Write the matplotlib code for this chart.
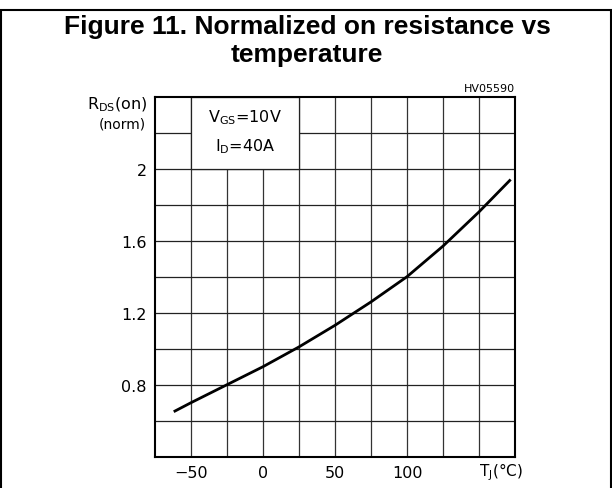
import matplotlib.pyplot as plt
from matplotlib.patches import Rectangle

# values
temp_c = [-62, -50, -37.5, -25, -12.5, 0, 12.5, 25, 50, 75, 100, 125, 150, 172]
rds_norm = [0.65, 0.70, 0.75, 0.80, 0.85, 0.90, 0.955, 1.01, 1.13, 1.26, 1.40, 1.57, 1.76, 1.94]

x_ticks = [-50, 0, 50, 100]
y_ticks = [0.8, 1.2, 1.6, 2.0]
y_tick_labels = ['0.8', '1.2', '1.6', '2']

W, H = 612, 489
fig = plt.figure(figsize=(W / 100, H / 100), dpi=100)

# outer frame of the datasheet figure
fig.patches.append(Rectangle((1 / W, -0.05), 610 / W, 1.05 - 11 / H, transform=fig.transFigure,
							 fill=False, edgecolor='black', linewidth=1.5))

fig.text(307 / W, 1 - 34 / H, 'Figure 11. Normalized on resistance vs', ha='center', va='baseline',
		 fontsize=19, fontweight='bold', family='Liberation Sans')
fig.text(307 / W, 1 - 62 / H, 'temperature', ha='center', va='baseline',
		 fontsize=19, fontweight='bold', family='Liberation Sans')

ax = fig.add_axes([155 / W, 1 - 457.7 / H, 360 / W, 360 / H])
ax.set_xlim(-75, 175)
ax.set_ylim(0.4, 2.4)

# grid every 25 degC and every 0.2
for gx in range(-50, 175, 25):
	ax.axvline(gx, color='#333333', linewidth=0.9, zorder=1)
for gy in [0.6, 0.8, 1.0, 1.2, 1.4, 1.6, 1.8, 2.0, 2.2]:
	ax.axhline(gy, color='#222222', linewidth=0.9, zorder=1)

# blank box holding the test conditions
ax.add_patch(Rectangle((-50, 2.0), 75, 0.4, facecolor='white', edgecolor='#222222',
					   linewidth=0.9, zorder=2))
ax.text(-12.5, 2.29, r'V$_{\mathregular{GS}}$=10V', ha='center', va='center', fontsize=11.5, zorder=3)
ax.text(-12.5, 2.13, r'I$_{\mathregular{D}}$=40A', ha='center', va='center', fontsize=11.5, zorder=3)

ax.plot(temp_c, rds_norm, color='black', linewidth=2, zorder=4, solid_capstyle='butt')

ax.set_xticks(x_ticks)
ax.set_yticks(y_ticks)
ax.set_yticklabels(y_tick_labels)
ax.tick_params(length=0, labelsize=11.5, pad=6)
for s in ax.spines.values():
	s.set_linewidth(1.5)
	s.set_zorder(5)

ax.text(150, 0.32, r'T$_{\mathregular{J}}$(°C)', ha='left', va='center', fontsize=11)
fig.text(148 / W, 1 - 105 / H, r'R$_{\mathregular{DS}}$(on)', ha='right', va='center', fontsize=11.5)
fig.text(146 / W, 1 - 125 / H, '(norm)', ha='right', va='center', fontsize=10)
fig.text(515 / W, 1 - 89 / H, 'HV05590', ha='right', va='center', fontsize=8)

fig.savefig('out.png', dpi=100)
